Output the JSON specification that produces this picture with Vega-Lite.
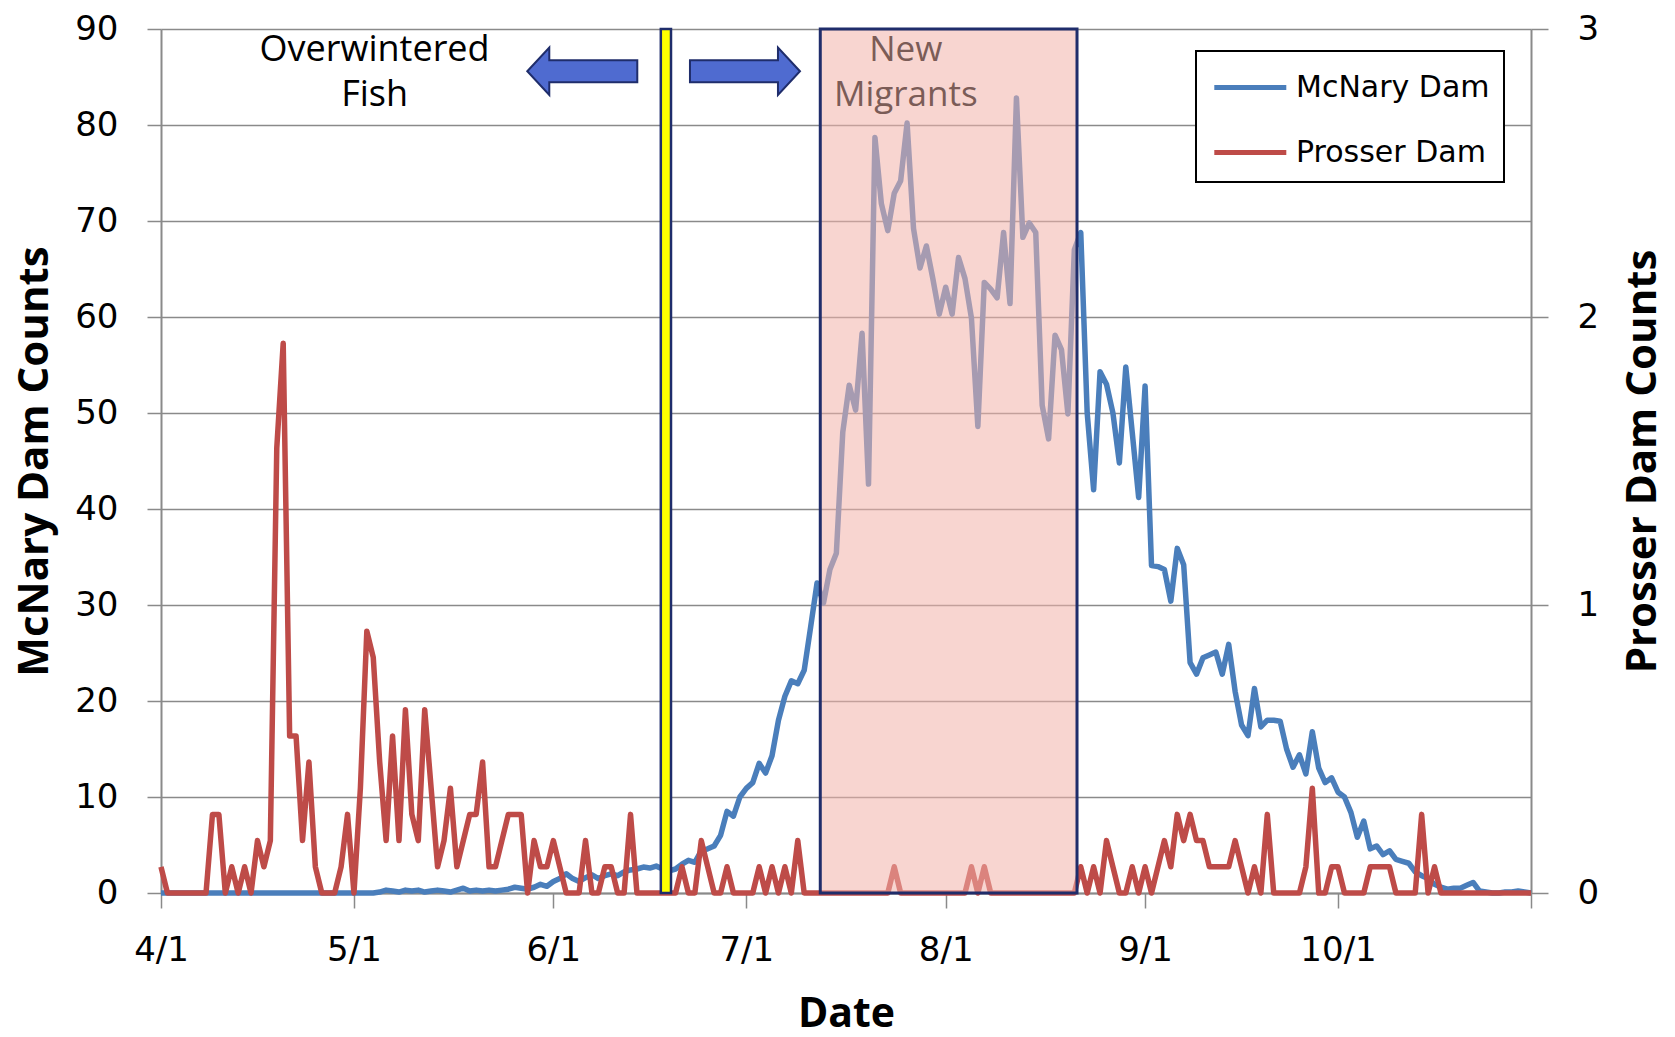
{
  "$schema": "https://vega.github.io/schema/vega-lite/v6.json",
  "width": 1370,
  "height": 864,
  "autosize": {"type": "none"},
  "padding": {"left": 161, "top": 29, "right": 144, "bottom": 144},
  "background": "white",
  "config": {"view": {"stroke": null}, "font": "Open Sans"},
  "data": {"values": [
    {"date":"2010-04-01","mcnary":0,"prosser":0.091},
    {"date":"2010-04-02","mcnary":0,"prosser":0},
    {"date":"2010-04-03","mcnary":0,"prosser":0},
    {"date":"2010-04-04","mcnary":0,"prosser":0},
    {"date":"2010-04-05","mcnary":0,"prosser":0},
    {"date":"2010-04-06","mcnary":0,"prosser":0},
    {"date":"2010-04-07","mcnary":0,"prosser":0},
    {"date":"2010-04-08","mcnary":0,"prosser":0},
    {"date":"2010-04-09","mcnary":0,"prosser":0.273},
    {"date":"2010-04-10","mcnary":0,"prosser":0.273},
    {"date":"2010-04-11","mcnary":0,"prosser":0},
    {"date":"2010-04-12","mcnary":0,"prosser":0.091},
    {"date":"2010-04-13","mcnary":0,"prosser":0},
    {"date":"2010-04-14","mcnary":0,"prosser":0.091},
    {"date":"2010-04-15","mcnary":0,"prosser":0},
    {"date":"2010-04-16","mcnary":0,"prosser":0.182},
    {"date":"2010-04-17","mcnary":0,"prosser":0.091},
    {"date":"2010-04-18","mcnary":0,"prosser":0.182},
    {"date":"2010-04-19","mcnary":0,"prosser":1.545},
    {"date":"2010-04-20","mcnary":0,"prosser":1.909},
    {"date":"2010-04-21","mcnary":0,"prosser":0.545},
    {"date":"2010-04-22","mcnary":0,"prosser":0.545},
    {"date":"2010-04-23","mcnary":0,"prosser":0.182},
    {"date":"2010-04-24","mcnary":0,"prosser":0.455},
    {"date":"2010-04-25","mcnary":0,"prosser":0.091},
    {"date":"2010-04-26","mcnary":0,"prosser":0},
    {"date":"2010-04-27","mcnary":0,"prosser":0},
    {"date":"2010-04-28","mcnary":0,"prosser":0},
    {"date":"2010-04-29","mcnary":0,"prosser":0.091},
    {"date":"2010-04-30","mcnary":0,"prosser":0.273},
    {"date":"2010-05-01","mcnary":0,"prosser":0},
    {"date":"2010-05-02","mcnary":0,"prosser":0.364},
    {"date":"2010-05-03","mcnary":0,"prosser":0.909},
    {"date":"2010-05-04","mcnary":0,"prosser":0.818},
    {"date":"2010-05-05","mcnary":0.1,"prosser":0.455},
    {"date":"2010-05-06","mcnary":0.3,"prosser":0.182},
    {"date":"2010-05-07","mcnary":0.2,"prosser":0.545},
    {"date":"2010-05-08","mcnary":0.1,"prosser":0.182},
    {"date":"2010-05-09","mcnary":0.3,"prosser":0.636},
    {"date":"2010-05-10","mcnary":0.2,"prosser":0.273},
    {"date":"2010-05-11","mcnary":0.3,"prosser":0.182},
    {"date":"2010-05-12","mcnary":0.1,"prosser":0.636},
    {"date":"2010-05-13","mcnary":0.2,"prosser":0.364},
    {"date":"2010-05-14","mcnary":0.3,"prosser":0.091},
    {"date":"2010-05-15","mcnary":0.2,"prosser":0.182},
    {"date":"2010-05-16","mcnary":0.1,"prosser":0.364},
    {"date":"2010-05-17","mcnary":0.3,"prosser":0.091},
    {"date":"2010-05-18","mcnary":0.5,"prosser":0.182},
    {"date":"2010-05-19","mcnary":0.2,"prosser":0.273},
    {"date":"2010-05-20","mcnary":0.3,"prosser":0.273},
    {"date":"2010-05-21","mcnary":0.2,"prosser":0.455},
    {"date":"2010-05-22","mcnary":0.3,"prosser":0.091},
    {"date":"2010-05-23","mcnary":0.2,"prosser":0.091},
    {"date":"2010-05-24","mcnary":0.3,"prosser":0.182},
    {"date":"2010-05-25","mcnary":0.4,"prosser":0.273},
    {"date":"2010-05-26","mcnary":0.6,"prosser":0.273},
    {"date":"2010-05-27","mcnary":0.5,"prosser":0.273},
    {"date":"2010-05-28","mcnary":0.4,"prosser":0},
    {"date":"2010-05-29","mcnary":0.6,"prosser":0.182},
    {"date":"2010-05-30","mcnary":0.9,"prosser":0.091},
    {"date":"2010-05-31","mcnary":0.7,"prosser":0.091},
    {"date":"2010-06-01","mcnary":1.2,"prosser":0.182},
    {"date":"2010-06-02","mcnary":1.5,"prosser":0.091},
    {"date":"2010-06-03","mcnary":2.0,"prosser":0},
    {"date":"2010-06-04","mcnary":1.5,"prosser":0},
    {"date":"2010-06-05","mcnary":1.2,"prosser":0},
    {"date":"2010-06-06","mcnary":1.6,"prosser":0.182},
    {"date":"2010-06-07","mcnary":1.9,"prosser":0},
    {"date":"2010-06-08","mcnary":1.5,"prosser":0},
    {"date":"2010-06-09","mcnary":1.8,"prosser":0.091},
    {"date":"2010-06-10","mcnary":2.0,"prosser":0.091},
    {"date":"2010-06-11","mcnary":1.8,"prosser":0},
    {"date":"2010-06-12","mcnary":2.2,"prosser":0},
    {"date":"2010-06-13","mcnary":2.4,"prosser":0.273},
    {"date":"2010-06-14","mcnary":2.5,"prosser":0},
    {"date":"2010-06-15","mcnary":2.7,"prosser":0},
    {"date":"2010-06-16","mcnary":2.6,"prosser":0},
    {"date":"2010-06-17","mcnary":2.8,"prosser":0},
    {"date":"2010-06-18","mcnary":2.5,"prosser":0},
    {"date":"2010-06-19","mcnary":2.3,"prosser":0},
    {"date":"2010-06-20","mcnary":2.5,"prosser":0},
    {"date":"2010-06-21","mcnary":3.0,"prosser":0.091},
    {"date":"2010-06-22","mcnary":3.4,"prosser":0},
    {"date":"2010-06-23","mcnary":3.2,"prosser":0},
    {"date":"2010-06-24","mcnary":4.4,"prosser":0.182},
    {"date":"2010-06-25","mcnary":4.6,"prosser":0.091},
    {"date":"2010-06-26","mcnary":4.9,"prosser":0},
    {"date":"2010-06-27","mcnary":6.0,"prosser":0},
    {"date":"2010-06-28","mcnary":8.5,"prosser":0.091},
    {"date":"2010-06-29","mcnary":8.0,"prosser":0},
    {"date":"2010-06-30","mcnary":10.0,"prosser":0},
    {"date":"2010-07-01","mcnary":10.9,"prosser":0},
    {"date":"2010-07-02","mcnary":11.5,"prosser":0},
    {"date":"2010-07-03","mcnary":13.5,"prosser":0.091},
    {"date":"2010-07-04","mcnary":12.5,"prosser":0},
    {"date":"2010-07-05","mcnary":14.3,"prosser":0.091},
    {"date":"2010-07-06","mcnary":18.0,"prosser":0},
    {"date":"2010-07-07","mcnary":20.5,"prosser":0.091},
    {"date":"2010-07-08","mcnary":22.1,"prosser":0},
    {"date":"2010-07-09","mcnary":21.8,"prosser":0.182},
    {"date":"2010-07-10","mcnary":23.2,"prosser":0},
    {"date":"2010-07-11","mcnary":27.7,"prosser":0},
    {"date":"2010-07-12","mcnary":32.3,"prosser":0},
    {"date":"2010-07-13","mcnary":30.2,"prosser":0},
    {"date":"2010-07-14","mcnary":33.7,"prosser":0},
    {"date":"2010-07-15","mcnary":35.4,"prosser":0},
    {"date":"2010-07-16","mcnary":48.0,"prosser":0},
    {"date":"2010-07-17","mcnary":52.9,"prosser":0},
    {"date":"2010-07-18","mcnary":50.3,"prosser":0},
    {"date":"2010-07-19","mcnary":58.3,"prosser":0},
    {"date":"2010-07-20","mcnary":42.6,"prosser":0},
    {"date":"2010-07-21","mcnary":78.7,"prosser":0},
    {"date":"2010-07-22","mcnary":71.8,"prosser":0},
    {"date":"2010-07-23","mcnary":69.0,"prosser":0},
    {"date":"2010-07-24","mcnary":72.9,"prosser":0.091},
    {"date":"2010-07-25","mcnary":74.2,"prosser":0},
    {"date":"2010-07-26","mcnary":80.2,"prosser":0},
    {"date":"2010-07-27","mcnary":69.2,"prosser":0},
    {"date":"2010-07-28","mcnary":65.1,"prosser":0},
    {"date":"2010-07-29","mcnary":67.4,"prosser":0},
    {"date":"2010-07-30","mcnary":64.0,"prosser":0},
    {"date":"2010-07-31","mcnary":60.3,"prosser":0},
    {"date":"2010-08-01","mcnary":63.1,"prosser":0},
    {"date":"2010-08-02","mcnary":60.3,"prosser":0},
    {"date":"2010-08-03","mcnary":66.2,"prosser":0},
    {"date":"2010-08-04","mcnary":64.0,"prosser":0},
    {"date":"2010-08-05","mcnary":59.9,"prosser":0.091},
    {"date":"2010-08-06","mcnary":48.6,"prosser":0},
    {"date":"2010-08-07","mcnary":63.6,"prosser":0.091},
    {"date":"2010-08-08","mcnary":62.9,"prosser":0},
    {"date":"2010-08-09","mcnary":62.0,"prosser":0},
    {"date":"2010-08-10","mcnary":68.8,"prosser":0},
    {"date":"2010-08-11","mcnary":61.4,"prosser":0},
    {"date":"2010-08-12","mcnary":82.8,"prosser":0},
    {"date":"2010-08-13","mcnary":68.3,"prosser":0},
    {"date":"2010-08-14","mcnary":69.8,"prosser":0},
    {"date":"2010-08-15","mcnary":68.8,"prosser":0},
    {"date":"2010-08-16","mcnary":50.8,"prosser":0},
    {"date":"2010-08-17","mcnary":47.3,"prosser":0},
    {"date":"2010-08-18","mcnary":58.1,"prosser":0},
    {"date":"2010-08-19","mcnary":56.6,"prosser":0},
    {"date":"2010-08-20","mcnary":49.9,"prosser":0},
    {"date":"2010-08-21","mcnary":67.0,"prosser":0},
    {"date":"2010-08-22","mcnary":68.8,"prosser":0.091},
    {"date":"2010-08-23","mcnary":50.0,"prosser":0},
    {"date":"2010-08-24","mcnary":42.0,"prosser":0.091},
    {"date":"2010-08-25","mcnary":54.3,"prosser":0},
    {"date":"2010-08-26","mcnary":53.0,"prosser":0.182},
    {"date":"2010-08-27","mcnary":50.0,"prosser":0.091},
    {"date":"2010-08-28","mcnary":44.8,"prosser":0},
    {"date":"2010-08-29","mcnary":54.8,"prosser":0},
    {"date":"2010-08-30","mcnary":48.0,"prosser":0.091},
    {"date":"2010-08-31","mcnary":41.2,"prosser":0},
    {"date":"2010-09-01","mcnary":52.8,"prosser":0.091},
    {"date":"2010-09-02","mcnary":34.1,"prosser":0},
    {"date":"2010-09-03","mcnary":34.0,"prosser":0.091},
    {"date":"2010-09-04","mcnary":33.7,"prosser":0.182},
    {"date":"2010-09-05","mcnary":30.4,"prosser":0.091},
    {"date":"2010-09-06","mcnary":35.9,"prosser":0.273},
    {"date":"2010-09-07","mcnary":34.2,"prosser":0.182},
    {"date":"2010-09-08","mcnary":24.0,"prosser":0.273},
    {"date":"2010-09-09","mcnary":22.8,"prosser":0.182},
    {"date":"2010-09-10","mcnary":24.5,"prosser":0.182},
    {"date":"2010-09-11","mcnary":24.8,"prosser":0.091},
    {"date":"2010-09-12","mcnary":25.1,"prosser":0.091},
    {"date":"2010-09-13","mcnary":22.8,"prosser":0.091},
    {"date":"2010-09-14","mcnary":25.9,"prosser":0.091},
    {"date":"2010-09-15","mcnary":21.0,"prosser":0.182},
    {"date":"2010-09-16","mcnary":17.5,"prosser":0.091},
    {"date":"2010-09-17","mcnary":16.4,"prosser":0},
    {"date":"2010-09-18","mcnary":21.3,"prosser":0.091},
    {"date":"2010-09-19","mcnary":17.3,"prosser":0},
    {"date":"2010-09-20","mcnary":18.0,"prosser":0.273},
    {"date":"2010-09-21","mcnary":18.0,"prosser":0},
    {"date":"2010-09-22","mcnary":17.9,"prosser":0},
    {"date":"2010-09-23","mcnary":15.0,"prosser":0},
    {"date":"2010-09-24","mcnary":13.1,"prosser":0},
    {"date":"2010-09-25","mcnary":14.4,"prosser":0},
    {"date":"2010-09-26","mcnary":12.4,"prosser":0.091},
    {"date":"2010-09-27","mcnary":16.8,"prosser":0.364},
    {"date":"2010-09-28","mcnary":13.0,"prosser":0},
    {"date":"2010-09-29","mcnary":11.5,"prosser":0},
    {"date":"2010-09-30","mcnary":12.0,"prosser":0.091},
    {"date":"2010-10-01","mcnary":10.5,"prosser":0.091},
    {"date":"2010-10-02","mcnary":10.0,"prosser":0},
    {"date":"2010-10-03","mcnary":8.4,"prosser":0},
    {"date":"2010-10-04","mcnary":5.8,"prosser":0},
    {"date":"2010-10-05","mcnary":7.5,"prosser":0},
    {"date":"2010-10-06","mcnary":4.6,"prosser":0.091},
    {"date":"2010-10-07","mcnary":4.9,"prosser":0.091},
    {"date":"2010-10-08","mcnary":4.0,"prosser":0.091},
    {"date":"2010-10-09","mcnary":4.4,"prosser":0.091},
    {"date":"2010-10-10","mcnary":3.5,"prosser":0},
    {"date":"2010-10-11","mcnary":3.3,"prosser":0},
    {"date":"2010-10-12","mcnary":3.1,"prosser":0},
    {"date":"2010-10-13","mcnary":2.2,"prosser":0},
    {"date":"2010-10-14","mcnary":1.8,"prosser":0.273},
    {"date":"2010-10-15","mcnary":1.5,"prosser":0},
    {"date":"2010-10-16","mcnary":0.9,"prosser":0.091},
    {"date":"2010-10-17","mcnary":0.6,"prosser":0},
    {"date":"2010-10-18","mcnary":0.4,"prosser":0},
    {"date":"2010-10-19","mcnary":0.5,"prosser":0},
    {"date":"2010-10-20","mcnary":0.5,"prosser":0},
    {"date":"2010-10-21","mcnary":0.8,"prosser":0},
    {"date":"2010-10-22","mcnary":1.1,"prosser":0},
    {"date":"2010-10-23","mcnary":0.2,"prosser":0},
    {"date":"2010-10-24","mcnary":0.1,"prosser":0},
    {"date":"2010-10-25","mcnary":0,"prosser":0},
    {"date":"2010-10-26","mcnary":0,"prosser":0},
    {"date":"2010-10-27","mcnary":0.1,"prosser":0},
    {"date":"2010-10-28","mcnary":0.1,"prosser":0},
    {"date":"2010-10-29","mcnary":0.2,"prosser":0},
    {"date":"2010-10-30","mcnary":0.1,"prosser":0},
    {"date":"2010-10-31","mcnary":0,"prosser":0}
  ]},
  "layer": [
    {
      "mark": {"type": "line", "strokeWidth": 5.5, "strokeJoin": "round"},
      "encoding": {
        "x": {
          "field": "date", "type": "temporal",
          "scale": {"type": "utc", "domain": [{"year": 2010, "month": 4, "date": 1, "utc": true}, {"year": 2010, "month": 10, "date": 31, "utc": true}]},
          "axis": {
            "values": [
              {"year": 2010, "month": 4, "date": 1, "utc": true},
              {"year": 2010, "month": 5, "date": 1, "utc": true},
              {"year": 2010, "month": 6, "date": 1, "utc": true},
              {"year": 2010, "month": 7, "date": 1, "utc": true},
              {"year": 2010, "month": 8, "date": 1, "utc": true},
              {"year": 2010, "month": 9, "date": 1, "utc": true},
              {"year": 2010, "month": 10, "date": 1, "utc": true},
              {"year": 2010, "month": 10, "date": 31, "utc": true}
            ],
            "labelExpr": "utcdate(datum.value) == 31 ? '' : utcFormat(datum.value, '%-m/%-d')",
            "grid": false,
            "domain": true, "domainColor": "#8a8a8a", "domainWidth": 2,
            "tickColor": "#8a8a8a", "tickWidth": 1.5, "tickSize": 15,
            "labelFont": "DejaVu Sans", "labelFontSize": 34, "labelColor": "#000000", "labelPadding": 25, "labelFlush": false, "labelOverlap": false,
            "title": "Date", "titleFontSize": 41, "titleFontWeight": "bold", "titleColor": "#000000",
            "titleBaseline": "middle", "titleAlign": "center", "titleX": 685, "titleY": 121
          }
        },
        "y": {
          "field": "mcnary", "type": "quantitative",
          "scale": {"domain": [0, 90], "nice": false},
          "axis": {
            "orient": "left",
            "values": [0, 10, 20, 30, 40, 50, 60, 70, 80, 90],
            "grid": true, "gridColor": "#8a8a8a", "gridWidth": 1.5,
            "domain": true, "domainColor": "#8a8a8a", "domainWidth": 2,
            "tickColor": "#8a8a8a", "tickWidth": 1.5, "tickSize": 14,
            "labelFont": "DejaVu Sans", "labelFontSize": 34, "labelColor": "#000000", "labelPadding": 29,
            "title": "McNary Dam Counts", "titleFontSize": 42, "titleFontWeight": "bold", "titleColor": "#000000",
            "titleAngle": 270, "titleAlign": "center", "titleBaseline": "middle", "titleX": -127, "titleY": 432
          }
        },
        "color": {
          "datum": "McNary Dam", "type": "nominal",
          "scale": {"domain": ["McNary Dam", "Prosser Dam"], "range": ["#4a7ebb", "#be4b48"]},
          "legend": {
            "orient": "none", "legendX": 1035, "legendY": 22, "title": null,
            "symbolType": "M -0.91 0 L 2.69 0", "symbolSize": 1600, "symbolStrokeWidth": 5,
            "labelFont": "DejaVu Sans", "labelFontSize": 30, "labelColor": "#000000", "labelOffset": 41, "labelLimit": 500, "rowPadding": 27,
            "padding": 14, "strokeColor": "#000000", "fillColor": "#ffffff", "cornerRadius": 0,
            "encode": {"legend": {"update": {"strokeWidth": {"value": 2}}}}
          }
        }
      }
    },
    {
      "mark": {"type": "line", "strokeWidth": 5.5, "strokeJoin": "round"},
      "encoding": {
        "x": {"field": "date", "type": "temporal"},
        "y": {
          "field": "prosser", "type": "quantitative",
          "scale": {"domain": [0, 3], "nice": false},
          "axis": {
            "orient": "right",
            "values": [0, 1, 2, 3],
            "grid": false,
            "domain": true, "domainColor": "#8a8a8a", "domainWidth": 2,
            "tickColor": "#8a8a8a", "tickWidth": 1.5, "tickSize": 17,
            "labelFont": "DejaVu Sans", "labelFontSize": 34, "labelColor": "#000000", "labelPadding": 29,
            "title": "Prosser Dam Counts", "titleFontSize": 42, "titleFontWeight": "bold", "titleColor": "#000000",
            "titleAngle": 270, "titleAlign": "center", "titleBaseline": "middle", "titleX": 111, "titleY": 432
          }
        },
        "color": {"datum": "Prosser Dam", "type": "nominal"}
      }
    },
    {
      "data": {"values": [{}]},
      "mark": {"type": "rect", "fill": "#f2b3aa", "fillOpacity": 0.55, "stroke": "#1f2d6b", "strokeWidth": 3, "strokeOpacity": 1},
      "encoding": {
        "x": {"datum": {"year": 2010, "month": 7, "date": 12, "hours": 12, "utc": true}, "type": "temporal"},
        "x2": {"datum": {"year": 2010, "month": 8, "date": 21, "hours": 10, "utc": true}},
        "y": {"datum": 0, "type": "quantitative", "scale": {"domain": [0, 90], "nice": false}, "axis": null},
        "y2": {"datum": 90}
      }
    },
    {
      "data": {"values": [{}]},
      "mark": {"type": "rect", "fill": "#ffff00", "stroke": "#1f2d6b", "strokeWidth": 2.5},
      "encoding": {
        "x": {"datum": {"year": 2010, "month": 6, "date": 17, "hours": 17, "utc": true}, "type": "temporal"},
        "x2": {"datum": {"year": 2010, "month": 6, "date": 19, "hours": 7, "utc": true}},
        "y": {"datum": 0, "type": "quantitative", "scale": {"domain": [0, 90], "nice": false}, "axis": null},
        "y2": {"datum": 90}
      }
    },
    {
      "data": {"values": [{}]},
      "mark": {"type": "point", "shape": "M -1 0 L -0.6 -0.43 L -0.6 -0.2 L 1 -0.2 L 1 0.2 L -0.6 0.2 L -0.6 0.43 Z", "size": 12100, "filled": true, "fill": "#4f6bd0", "stroke": "#1f2d6b", "strokeWidth": 2, "opacity": 1, "fillOpacity": 1},
      "encoding": {
        "x": {"datum": {"year": 2010, "month": 6, "date": 5, "hours": 12, "utc": true}, "type": "temporal"},
        "y": {"datum": 85.6, "type": "quantitative", "scale": {"domain": [0, 90], "nice": false}, "axis": null}
      }
    },
    {
      "data": {"values": [{}]},
      "mark": {"type": "point", "shape": "M 1 0 L 0.6 -0.43 L 0.6 -0.2 L -1 -0.2 L -1 0.2 L 0.6 0.2 L 0.6 0.43 Z", "size": 12100, "filled": true, "fill": "#4f6bd0", "stroke": "#1f2d6b", "strokeWidth": 2, "opacity": 1, "fillOpacity": 1},
      "encoding": {
        "x": {"datum": {"year": 2010, "month": 6, "date": 30, "hours": 19, "utc": true}, "type": "temporal"},
        "y": {"datum": 85.6, "type": "quantitative", "scale": {"domain": [0, 90], "nice": false}, "axis": null}
      }
    },
    {
      "data": {"values": [{}]},
      "mark": {"type": "text", "text": ["Overwintered", "Fish"], "lineHeight": 45, "fontSize": 36, "font": "Open Sans", "fill": "#000000", "align": "center", "baseline": "middle"},
      "encoding": {
        "x": {"datum": {"year": 2010, "month": 5, "date": 4, "hours": 5, "utc": true}, "type": "temporal"},
        "y": {"datum": 87.8, "type": "quantitative", "scale": {"domain": [0, 90], "nice": false}, "axis": null}
      }
    },
    {
      "data": {"values": [{}]},
      "mark": {"type": "text", "text": ["New", "Migrants"], "lineHeight": 45, "fontSize": 35, "font": "Open Sans", "fill": "#7b5c57", "align": "center", "baseline": "middle"},
      "encoding": {
        "x": {"datum": {"year": 2010, "month": 7, "date": 25, "hours": 19, "utc": true}, "type": "temporal"},
        "y": {"datum": 87.8, "type": "quantitative", "scale": {"domain": [0, 90], "nice": false}, "axis": null}
      }
    }
  ],
  "resolve": {"scale": {"y": "independent"}}
}
